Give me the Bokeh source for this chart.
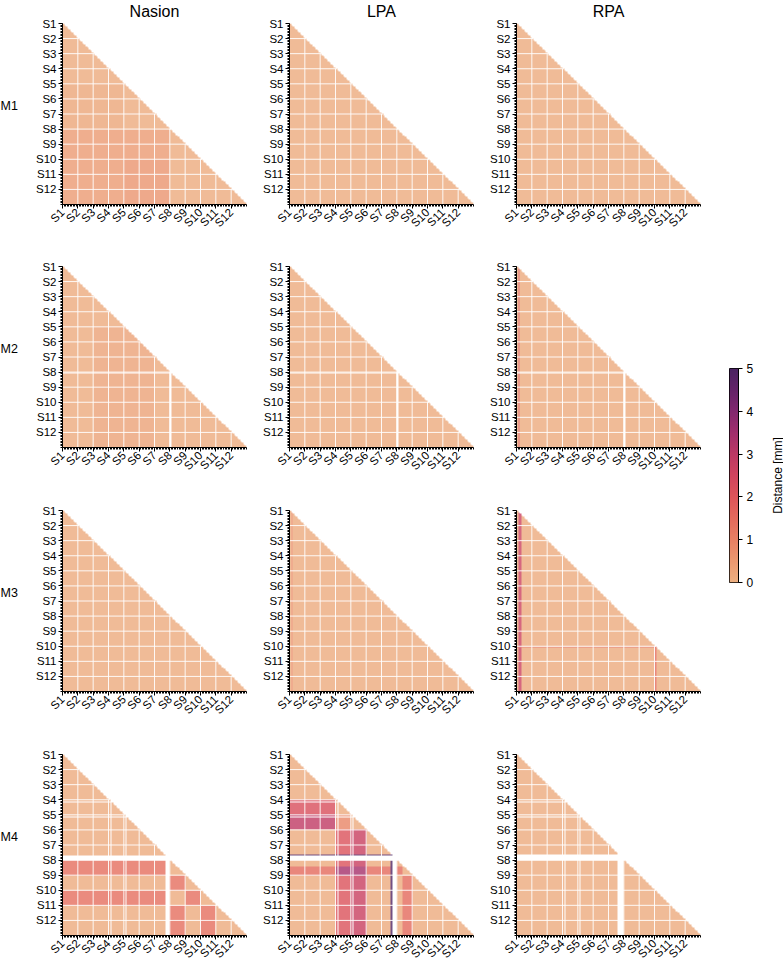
import numpy as np
from bokeh.plotting import figure
from bokeh.models import Range1d, LinearColorMapper, FixedTicker
from bokeh.layouts import row, column
from bokeh.embed import file_html
from bokeh.resources import INLINE
from bokeh.core.properties import value

FONT = "Liberation Sans"

# ---------------- data ----------------
fiducials = ["Nasion", "LPA", "RPA"]
systems = ["M1", "M2", "M3", "M4"]
sessions = ["S1", "S2", "S3", "S4", "S5", "S6", "S7", "S8", "S9", "S10", "S11", "S12"]
runs_per_session = 10

cbar_ticks = [0, 1, 2, 3, 4, 5]
cbar_title = "Distance [mm]"

# typical run-to-run distance (mm) for [Nasion, LPA, RPA]
base_M1 = [0.12, 0.1, 0.1]
base_M2 = [0.12, 0.1, 0.1]
base_M3 = [0.1, 0.1, 0.1]
base_M4 = [0.12, 0.12, 0.1]

# runs without a measurement, for [Nasion, LPA, RPA]
missing_M1 = [[], [], []]
missing_M2 = [[70], [70], [70]]
missing_M3 = [[], [], []]
missing_M4 = [[31, 41, 67, 68, 69], [31, 41, 67, 68, 69], [31, 41, 66, 67, 68, 69]]

# blocks that differ from the base: (fiducial, first row run, last row run,
#                                    first col run, last col run, distance mm)
patches_M1 = [
    (0, 40, 69, 0, 39, 0.25),
    (0, 70, 119, 0, 69, 0.45),
    (0, 90, 119, 40, 69, 0.6),
]
patches_M2 = [
    (0, 40, 119, 20, 59, 0.3),
    (2, 1, 119, 1, 1, 2.0),
]
patches_M3 = [
    (1, 1, 119, 1, 1, 0.9),
    (2, 1, 119, 1, 2, 2.6),
    (2, 90, 90, 0, 90, 1.5),
    (2, 90, 119, 90, 90, 1.5),
]
patches_M4 = [
    (0, 70, 79, 0, 66, 1.4),
    (0, 90, 99, 0, 66, 1.4),
    (0, 80, 89, 70, 79, 1.4),
    (0, 90, 99, 80, 89, 1.4),
    (0, 100, 119, 70, 79, 1.4),
    (0, 100, 119, 90, 99, 1.4),
    (1, 30, 39, 0, 29, 2.2),
    (1, 40, 49, 0, 29, 2.9),
    (1, 40, 49, 30, 39, 0.9),
    (1, 50, 119, 30, 39, 2.1),
    (1, 50, 119, 40, 49, 2.7),
    (1, 74, 79, 0, 29, 1.5),
    (1, 74, 79, 50, 73, 1.5),
    (1, 74, 79, 30, 49, 3.4),
    (1, 80, 119, 74, 79, 1.5),
    (1, 66, 66, 0, 66, 4.9),
    (1, 66, 119, 66, 66, 4.9),
]

bases = [base_M1, base_M2, base_M3, base_M4]
missings = [missing_M1, missing_M2, missing_M3, missing_M4]
patches = [patches_M1, patches_M2, patches_M3, patches_M4]

# ---------------- colour map (flare-like) ----------------
anchors = [
    (0.0, (237, 176, 129)), (0.1, (235, 152, 112)), (0.2, (232, 128, 100)),
    (0.3, (228, 106, 92)), (0.4, (222, 85, 90)), (0.5, (208, 68, 94)),
    (0.6, (188, 56, 100)), (0.7, (161, 46, 108)), (0.8, (130, 39, 110)),
    (0.9, (101, 35, 104)), (1.0, (75, 35, 98)),
]
_t = np.linspace(0, 1, 256)
_pos = [a[0] for a in anchors]
_chan = [np.interp(_t, _pos, [a[1][k] for a in anchors]) for k in range(3)]
flare = ["#%02x%02x%02x" % (int(round(r)), int(round(g)), int(round(b)))
         for r, g, b in zip(*_chan)]
mapper = LinearColorMapper(palette=flare, low=cbar_ticks[0], high=cbar_ticks[-1],
                           nan_color="white")

N = len(sessions) * runs_per_session
UP = 4  # upsampling factor of the raster (same values, crisper edges)


def panel_matrix(base, plist, missing, fid):
    m = np.full((N, N), base)
    for f, r0, r1, c0, c1, v in plist:
        if f == fid:
            m[r0:r1 + 1, c0:c1 + 1] = v
    m[np.triu_indices(N, 1)] = np.nan
    if missing:
        m[missing, :] = np.nan
        m[:, missing] = np.nan
    return m


def style_axes(p):
    for ax in p.axis:
        ax.axis_line_color = "black"
        ax.axis_line_width = 1
        ax.major_tick_line_color = "black"
        ax.minor_tick_line_color = "black"
        ax.major_tick_in = 0
        ax.major_tick_out = 4
        ax.minor_tick_in = 0
        ax.minor_tick_out = 2
        ax.major_label_text_font = FONT
        ax.major_label_text_font_size = "11.5px"
        ax.major_label_text_color = "black"
        ax.major_label_standoff = 2


FW, FH = 184, 181
LAB_W = 28
tops = [23, 20, 20, 20]
bottoms = [42, 43, 43, 28]
TOTAL_H = sum(tops) + sum(bottoms) + 4 * FH

rows = []
for si, sysname in enumerate(systems):
    lab = figure(frame_width=LAB_W, frame_height=FH, x_range=Range1d(0, LAB_W),
                 y_range=Range1d(FH, 0), x_axis_location=None,
                 y_axis_location=None, output_backend="svg",
                 toolbar_location=None, min_border_left=0, min_border_right=0,
                 min_border_top=tops[si], min_border_bottom=bottoms[si])
    lab.outline_line_color = None
    lab.grid.visible = False
    lab.text(x=[0], y=[FH / 2 - 8], text=[sysname], text_font=value(FONT),
             text_font_size="12.5px", text_color="black", text_align="left",
             text_baseline="middle")
    figs = [lab]
    for fi, fid_name in enumerate(fiducials):
        mat = panel_matrix(bases[si][fi], patches[si], missings[si][fi], fi)
        p = figure(frame_width=FW, frame_height=FH,
                   x_range=Range1d(0, N), y_range=Range1d(0, N),
                   output_backend="svg", toolbar_location=None,
                   min_border_left=34, min_border_right=9,
                   min_border_top=tops[si], min_border_bottom=bottoms[si],
                   title=fid_name if si == 0 else None)
        if si == 0:
            p.title.align = "center"
            p.title.vertical_align = "top"
            p.title.text_font = FONT
            p.title.text_font_size = "16px"
            p.title.text_font_style = "normal"
            p.title.text_color = "black"
            p.title.standoff = 4
        p.outline_line_color = None
        p.grid.visible = False
        img = np.repeat(np.repeat(mat[::-1], UP, axis=0), UP, axis=1)
        p.image(image=[img], x=0, y=0, dw=N, dh=N, color_mapper=mapper,
                global_alpha=0.8)
        bounds = [runs_per_session * s for s in range(1, len(sessions))]
        p.segment(x0=[0] * len(bounds), y0=[N - b for b in bounds],
                  x1=[b + 1 for b in bounds], y1=[N - b for b in bounds],
                  line_color="white", line_width=1, line_alpha=0.9)
        p.segment(x0=bounds, y0=[0] * len(bounds),
                  x1=bounds, y1=[N - b for b in bounds],
                  line_color="white", line_width=1, line_alpha=0.9)
        xt = [runs_per_session * s for s in range(len(sessions))]
        yt = [N - runs_per_session * s for s in range(len(sessions))]
        p.xaxis.ticker = FixedTicker(ticks=xt, minor_ticks=list(range(0, N + 1)))
        p.yaxis.ticker = FixedTicker(ticks=yt, minor_ticks=list(range(0, N + 1)))
        p.xaxis.major_label_overrides = {t: s for t, s in zip(xt, sessions)}
        p.yaxis.major_label_overrides = {t: s for t, s in zip(yt, sessions)}
        p.xaxis.major_label_orientation = np.pi / 4
        style_axes(p)
        figs.append(p)
    rows.append(row(*figs))

grid = column(*rows)

# colour bar
CB_TOP, CB_H = 368, 214
CB_BOT = TOTAL_H - CB_TOP - CB_H
cb = figure(frame_width=9, frame_height=CB_H, x_range=Range1d(0, 1),
            y_range=Range1d(cbar_ticks[0], cbar_ticks[-1]),
            x_axis_location=None, y_axis_location="right",
            output_backend="svg", toolbar_location=None,
            min_border_left=20, min_border_right=33,
            min_border_top=CB_TOP, min_border_bottom=CB_BOT)
cb.grid.visible = False
cb.outline_line_color = "black"
cb.outline_line_width = 1
grad = np.linspace(cbar_ticks[0], cbar_ticks[-1], 256).reshape(256, 1)
cb.image(image=[grad], x=0, y=cbar_ticks[0], dw=1,
         dh=cbar_ticks[-1] - cbar_ticks[0], color_mapper=mapper)
cb.yaxis.ticker = FixedTicker(ticks=cbar_ticks, minor_ticks=[])
for ax in cb.axis:
    ax.axis_line_color = "black"
    ax.major_tick_line_color = "black"
    ax.major_tick_in = 0
    ax.major_tick_out = 4
    ax.major_label_text_font = FONT
    ax.major_label_text_font_size = "12px"
    ax.major_label_text_color = "black"
    ax.major_label_standoff = 4

tt = figure(frame_width=12, frame_height=CB_H, x_range=Range1d(0, 12),
            y_range=Range1d(0, CB_H), x_axis_location=None,
            y_axis_location=None, output_backend="svg", toolbar_location=None,
            min_border_left=0, min_border_right=0,
            min_border_top=CB_TOP, min_border_bottom=CB_BOT)
tt.outline_line_color = None
tt.grid.visible = False
tt.text(x=[6], y=[CB_H / 2], text=[cbar_title], angle=np.pi / 2,
        text_font=value(FONT), text_font_size="12px", text_color="black",
        text_align="center", text_baseline="middle")

layout = row(grid, cb, tt)

open("out.html", "w").write(file_html(layout, INLINE, "plot"))
